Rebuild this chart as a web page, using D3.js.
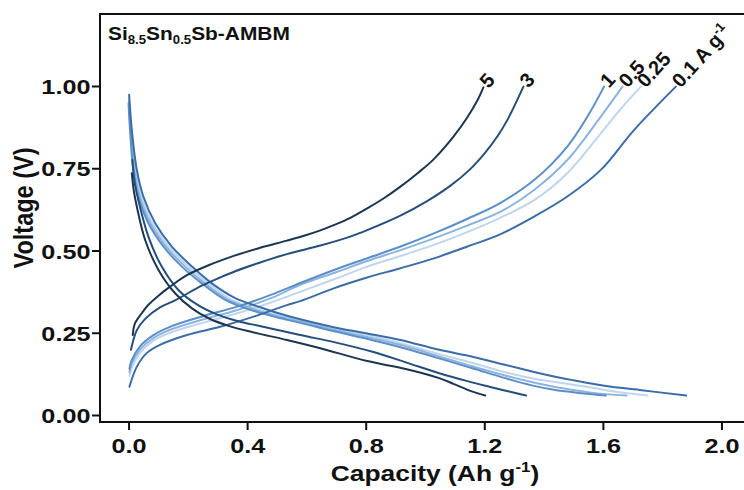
<!DOCTYPE html>
<html>
<head>
<meta charset="utf-8">
<script src="https://cdn.jsdelivr.net/npm/d3@7"></script>
<style>
  html, body { margin: 0; padding: 0; background: #fff; }
  svg { display: block; }
  text { font-family: "Liberation Sans", Arial, sans-serif; font-weight: bold; fill: #111; }
</style>
</head>
<body>
<svg id="chart" width="744" height="490"></svg>
<script>
// ---------- data (capacity in Ah g-1, voltage in V) ----------
const rates = ["5", "3", "1", "0.5", "0.25", "0.1"];
const xTicks = [0.0, 0.4, 0.8, 1.2, 1.6, 2.0];
const yTicks = [0.00, 0.25, 0.50, 0.75, 1.00];

const charge5 = [[0.014,0.243],[0.022,0.279],[0.045,0.310],[0.067,0.335],[0.100,0.362],[0.140,0.390],[0.197,0.425],[0.270,0.455],[0.360,0.485],[0.439,0.507],[0.534,0.530],[0.600,0.547],[0.647,0.561],[0.692,0.577],[0.750,0.600],[0.805,0.628],[0.860,0.658],[0.917,0.694],[0.975,0.735],[1.029,0.777],[1.096,0.846],[1.143,0.905],[1.176,0.955],[1.197,0.996]];
const charge3 = [[0.008,0.198],[0.028,0.258],[0.056,0.292],[0.106,0.327],[0.160,0.350],[0.247,0.393],[0.309,0.418],[0.360,0.437],[0.439,0.462],[0.534,0.489],[0.647,0.515],[0.750,0.543],[0.805,0.562],[0.917,0.606],[1.007,0.650],[1.086,0.697],[1.150,0.745],[1.199,0.793],[1.245,0.848],[1.278,0.897],[1.332,0.998]];
const charge1 = [[0.003,0.140],[0.010,0.165],[0.040,0.210],[0.084,0.243],[0.140,0.268],[0.250,0.300],[0.370,0.330],[0.480,0.365],[0.590,0.405],[0.700,0.443],[0.810,0.478],[0.920,0.513],[1.030,0.552],[1.140,0.595],[1.255,0.645],[1.368,0.714],[1.480,0.816],[1.548,0.907],[1.604,0.998]];
const charge05 = [[0.003,0.130],[0.010,0.155],[0.040,0.200],[0.084,0.234],[0.140,0.259],[0.250,0.290],[0.370,0.320],[0.480,0.355],[0.580,0.396],[0.700,0.434],[0.805,0.468],[0.920,0.502],[1.030,0.537],[1.140,0.575],[1.255,0.618],[1.368,0.684],[1.480,0.775],[1.593,0.907],[1.666,0.998]];
const charge025 = [[0.003,0.118],[0.010,0.142],[0.040,0.190],[0.084,0.226],[0.140,0.250],[0.250,0.280],[0.370,0.310],[0.480,0.342],[0.580,0.375],[0.700,0.415],[0.805,0.451],[0.920,0.484],[1.030,0.517],[1.140,0.555],[1.255,0.600],[1.368,0.653],[1.480,0.735],[1.593,0.856],[1.660,0.930],[1.728,0.998]];
const charge01 = [[0.003,0.086],[0.028,0.147],[0.061,0.188],[0.106,0.213],[0.197,0.243],[0.309,0.268],[0.422,0.299],[0.534,0.334],[0.579,0.346],[0.692,0.385],[0.805,0.418],[0.917,0.446],[1.030,0.476],[1.143,0.512],[1.255,0.550],[1.368,0.603],[1.480,0.664],[1.593,0.745],[1.705,0.866],[1.846,0.998]];

const discharge5 = [[0.011,0.735],[0.018,0.680],[0.028,0.633],[0.056,0.532],[0.101,0.441],[0.157,0.370],[0.214,0.324],[0.270,0.294],[0.340,0.270],[0.422,0.251],[0.534,0.228],[0.647,0.203],[0.805,0.164],[0.935,0.140],[1.048,0.112],[1.100,0.093],[1.160,0.071],[1.203,0.059]];
const discharge3 = [[0.013,0.775],[0.020,0.710],[0.033,0.653],[0.067,0.542],[0.112,0.451],[0.168,0.380],[0.236,0.333],[0.300,0.305],[0.370,0.285],[0.450,0.269],[0.579,0.243],[0.700,0.220],[0.823,0.192],[0.935,0.160],[1.048,0.127],[1.143,0.103],[1.217,0.086],[1.280,0.072],[1.341,0.059]];
const discharge1 = [[0.000,0.947],[0.005,0.866],[0.016,0.745],[0.033,0.664],[0.067,0.583],[0.118,0.512],[0.180,0.451],[0.247,0.400],[0.326,0.350],[0.416,0.318],[0.500,0.297],[0.580,0.280],[0.690,0.255],[0.820,0.228],[0.930,0.203],[1.048,0.172],[1.160,0.142],[1.270,0.112],[1.360,0.090],[1.440,0.076],[1.530,0.066],[1.610,0.059]];
const discharge05 = [[0.001,0.955],[0.007,0.866],[0.020,0.745],[0.038,0.664],[0.074,0.583],[0.127,0.512],[0.191,0.451],[0.258,0.400],[0.337,0.350],[0.427,0.320],[0.500,0.301],[0.580,0.284],[0.690,0.260],[0.820,0.234],[0.930,0.210],[1.048,0.178],[1.160,0.148],[1.270,0.120],[1.360,0.100],[1.440,0.085],[1.560,0.068],[1.680,0.059]];
const discharge025 = [[0.001,0.960],[0.009,0.866],[0.024,0.745],[0.044,0.664],[0.081,0.583],[0.136,0.512],[0.202,0.451],[0.270,0.400],[0.348,0.350],[0.432,0.322],[0.500,0.305],[0.580,0.288],[0.690,0.265],[0.820,0.240],[0.930,0.215],[1.048,0.185],[1.160,0.158],[1.270,0.130],[1.360,0.112],[1.440,0.100],[1.550,0.085],[1.650,0.070],[1.750,0.059]];
const discharge01 = [[0.002,0.973],[0.011,0.866],[0.028,0.745],[0.050,0.664],[0.090,0.583],[0.146,0.512],[0.214,0.451],[0.281,0.400],[0.360,0.355],[0.439,0.329],[0.500,0.311],[0.579,0.291],[0.692,0.267],[0.805,0.248],[0.917,0.228],[1.048,0.198],[1.160,0.177],[1.273,0.152],[1.386,0.127],[1.498,0.106],[1.610,0.088],[1.724,0.076],[1.881,0.059]];

// ---------- styles ----------
const colors = {"5":"#1b3552","3":"#244f7c","1":"#5b8fc8","0.5":"#8db4de","0.25":"#bfd6ee","0.1":"#3a6da8"};

const series = [
  {rate:"0.25", charge:charge025, discharge:discharge025},
  {rate:"0.5",  charge:charge05,  discharge:discharge05},
  {rate:"1",    charge:charge1,   discharge:discharge1},
  {rate:"0.1",  charge:charge01,  discharge:discharge01},
  {rate:"3",    charge:charge3,   discharge:discharge3},
  {rate:"5",    charge:charge5,   discharge:discharge5}
];

const svg = d3.select("#chart");
const mLeft = 100, mTop = 14, mBottom = 422, mRight = 760;
const stretch = 1.2; // horizontal widening of the bold lettering

const x = d3.scaleLinear().domain([-0.0963, 2.13]).range([mLeft, mRight]);
const y = d3.scaleLinear().domain([-0.0213, 1.2188]).range([mBottom, mTop]);

// axes
const xAxis = d3.axisBottom(x).tickValues(xTicks).tickFormat(d3.format(".1f")).tickSize(8).tickSizeOuter(0);
const yAxis = d3.axisLeft(y).tickValues(yTicks).tickFormat(d3.format(".2f")).tickSize(8).tickSizeOuter(0);

const gx = svg.append("g").attr("transform", `translate(0,${mBottom})`).call(xAxis);
const gy = svg.append("g").attr("transform", `translate(${mLeft},0)`).call(yAxis);
[gx, gy].forEach(g => {
  g.select(".domain").remove();
  g.selectAll(".tick line").attr("stroke", "#111").attr("stroke-width", 2);
  g.selectAll(".tick text").style("font-size", "21px").style("font-weight", "bold")
    .style("font-family", "'Liberation Sans', Arial, sans-serif").attr("fill", "#111");
});
gx.selectAll(".tick text").attr("dy", null).attr("y", 31).attr("transform", `scale(${stretch},1)`);
gy.selectAll(".tick text").attr("x", -8).attr("dy", "0.36em").attr("transform", `scale(${stretch},1)`);

// frame (left, top, bottom)
svg.append("path")
  .attr("d", `M${mRight},${mTop} H${mLeft} V${mBottom} H${mRight}`)
  .attr("fill", "none").attr("stroke", "#111").attr("stroke-width", 2);

// curves
const line = d3.line().x(d => x(d[0])).y(d => y(d[1])).curve(d3.curveCatmullRom.alpha(0.5));
const curves = svg.append("g");
series.forEach(s => {
  [s.discharge, s.charge].forEach(arr => {
    curves.append("path").datum(arr)
      .attr("d", line)
      .attr("fill", "none")
      .attr("stroke", colors[s.rate])
      .attr("stroke-width", 2)
      .attr("stroke-linecap", "round");
  });
});

// rate labels at the end of charge curves
const labelG = svg.append("g");
series.forEach(s => {
  const end = s.charge[s.charge.length - 1];
  const t = labelG.append("text")
    .attr("transform", `translate(${x(end[0]) + 5},${y(end[1]) + 2}) rotate(-48)`)
    .style("font-size", "20px");
  if (s.rate === "0.1") {
    t.append("tspan").text("0.1 A g");
    t.append("tspan").attr("dy", -8).style("font-size", "13px").text("-1");
  } else {
    t.text(s.rate);
  }
});

// title
const title = svg.append("text").attr("transform", "translate(108,40) scale(1.1,1)").style("font-size", "19px");
title.append("tspan").text("Si");
title.append("tspan").attr("dy", 4).style("font-size", "12px").text("8.5");
title.append("tspan").attr("dy", -4).text("Sn");
title.append("tspan").attr("dy", 4).style("font-size", "12px").text("0.5");
title.append("tspan").attr("dy", -4).text("Sb-AMBM");

// axis titles
const xt = svg.append("text").attr("transform", `translate(435,481) scale(${stretch},1)`)
  .attr("text-anchor", "middle").style("font-size", "22px");
xt.append("tspan").text("Capacity (Ah g");
xt.append("tspan").attr("dy", -9).style("font-size", "14px").text("-1");
xt.append("tspan").attr("dy", 9).text(")");

svg.append("text")
  .attr("transform", `translate(33,208) scale(${stretch},1) rotate(-90)`)
  .attr("text-anchor", "middle")
  .style("font-size", "23.5px")
  .text("Voltage (V)");
</script>
</body>
</html>
